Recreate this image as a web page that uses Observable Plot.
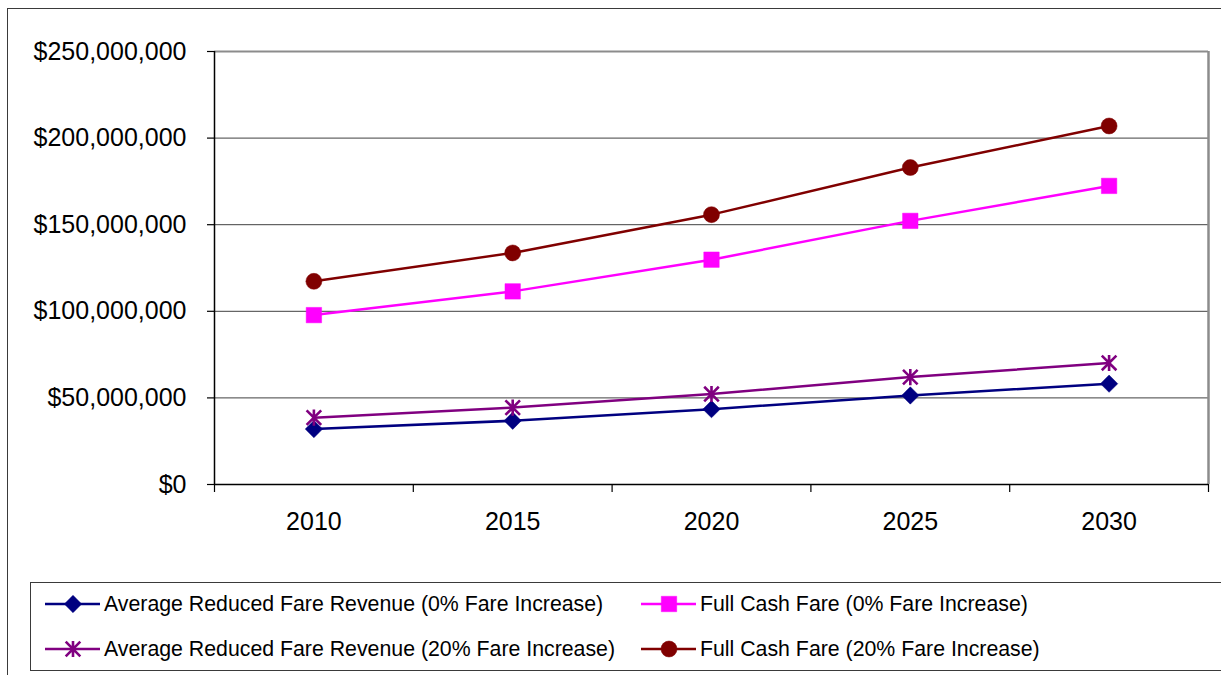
<!DOCTYPE html>
<html><head><meta charset="utf-8">
<script src="https://cdn.jsdelivr.net/npm/d3@7"></script>
<script src="https://cdn.jsdelivr.net/npm/@observablehq/plot@0.6"></script>
<style>
html,body{margin:0;padding:0;background:#fff;overflow:hidden;width:1221px;height:675px;}
#frame{position:absolute;left:7px;top:8px;width:1240px;height:700px;border:1.5px solid #3a3a3a;box-sizing:border-box;}
#chart{position:absolute;left:0;top:0;}
#legend{position:absolute;left:30px;top:582px;width:1220px;height:89px;border:1.5px solid #3a3a3a;box-sizing:border-box;font-family:"Liberation Sans",Arial,sans-serif;font-size:21.3px;color:#000;}
.item{position:absolute;display:flex;align-items:center;height:30px;white-space:nowrap;}
.item svg{display:block;margin-right:3px;}
</style></head>
<body>
<div id="frame"></div>
<div id="chart"></div>
<div id="legend"></div>
<script>
// ---- data ----
const years = [2010, 2015, 2020, 2025, 2030];
const reduced0 = [32.0e6, 36.8e6, 43.5e6, 51.4e6, 58.2e6];
const cash0 = [97.8e6, 111.5e6, 129.8e6, 152.2e6, 172.4e6];
const reduced20 = [38.6e6, 44.4e6, 52.2e6, 62.0e6, 70.2e6];
const cash20 = [117.3e6, 133.7e6, 155.8e6, 183.0e6, 207.0e6];
const seriesNames = [
  "Average Reduced Fare Revenue (0% Fare Increase)",
  "Full Cash Fare (0% Fare Increase)",
  "Average Reduced Fare Revenue (20% Fare Increase)",
  "Full Cash Fare (20% Fare Increase)"
];
const seriesColors = ["#000080", "#FF00FF", "#800080", "#800000"];
const yTicks = [0, 50e6, 100e6, 150e6, 200e6, 250e6];
const xBounds = [2007.5, 2012.5, 2017.5, 2022.5, 2027.5, 2032.5];

const seriesValues = [reduced0, cash0, reduced20, cash20];

// excel-like asterisk symbol
const excelStar = {
  draw(ctx, size) {
    const r = Math.sqrt(size / Math.PI);
    ctx.moveTo(-r, -r); ctx.lineTo(r, r);
    ctx.moveTo(-r, r); ctx.lineTo(r, -r);
    ctx.moveTo(0, -r * 1.1); ctx.lineTo(0, r * 1.1);
  }
};
const markers = [
  {symbol: "diamond2", r: 7.8, filled: true},
  {symbol: "square", r: 8.7, filled: true},
  {symbol: excelStar, r: 7.3, filled: false},
  {symbol: "circle", r: 8, filled: true}
];

const rows = [];
seriesNames.forEach((name, i) => {
  years.forEach((y, j) => rows.push({series: name, year: y, value: seriesValues[i][j]}));
});

const fmt = d3.format(",");
const marks = [
  Plot.ruleY(yTicks.slice(1, -1), {stroke: "#404040", strokeWidth: 1}),
  Plot.ruleY([250e6], {stroke: "#8c8c8c", strokeWidth: 2}),
  Plot.ruleX([2032.5], {stroke: "#8c8c8c", strokeWidth: 2.5}),
  Plot.axisY(yTicks, {label: null, tickSize: 7, tickPadding: 21, tickFormat: d => "$" + fmt(d), fontSize: 25, strokeWidth: 1.2}),
  Plot.axisX(xBounds, {label: null, tickSize: 8, tickFormat: () => "", strokeWidth: 1.2}),
  Plot.axisX(years, {label: null, tickSize: 0, tickPadding: 28, tickFormat: d => String(d), fontSize: 25}),
  Plot.ruleX([2007.5], {stroke: "#000", strokeWidth: 1.5}),
  Plot.ruleY([0], {stroke: "#000", strokeWidth: 1.5}),
  Plot.line(rows, {x: "year", y: "value", z: "series", stroke: "series", strokeWidth: 2.5})
];
seriesNames.forEach((name, i) => {
  const m = markers[i];
  marks.push(Plot.dot(rows.filter(d => d.series === name), {
    x: "year", y: "value", symbol: m.symbol, r: m.r,
    fill: m.filled ? seriesColors[i] : "none",
    stroke: seriesColors[i], strokeWidth: m.filled ? 0.5 : 2.6
  }));
});

const chart = Plot.plot({
  width: 1221, height: 560,
  marginLeft: 214, marginRight: 13, marginTop: 51, marginBottom: 76,
  style: {background: "transparent", fontFamily: "'Liberation Sans', Arial, sans-serif", color: "#000"},
  x: {type: "linear", domain: [2007.5, 2032.5]},
  y: {domain: [0, 250e6]},
  color: {domain: seriesNames, range: seriesColors},
  marks
});
document.getElementById("chart").appendChild(chart);

// ---- legend ----
const legend = document.getElementById("legend");
const pos = [[14, 6], [610, 6], [14, 51], [610, 51]];
seriesNames.forEach((name, i) => {
  const m = markers[i];
  const item = document.createElement("div");
  item.className = "item";
  item.style.left = pos[i][0] + "px";
  item.style.top = pos[i][1] + "px";
  const symObj = typeof m.symbol === "string"
    ? ({diamond2: d3.symbolDiamond2, square: d3.symbolSquare, circle: d3.symbolCircle})[m.symbol]
    : m.symbol;
  const path = d3.symbol(symObj, m.r * m.r * Math.PI)();
  const c = seriesColors[i];
  item.innerHTML = `<svg width="56" height="30" viewBox="0 0 56 30">
    <line x1="0" y1="15" x2="55" y2="15" stroke="${c}" stroke-width="2.5"/>
    <path transform="translate(28,15)" d="${path}" fill="${m.filled ? c : "none"}" stroke="${c}" stroke-width="${m.filled ? 0.5 : 2.6}"/>
  </svg><span>${name}</span>`;
  legend.appendChild(item);
});
</script>
</body></html>
